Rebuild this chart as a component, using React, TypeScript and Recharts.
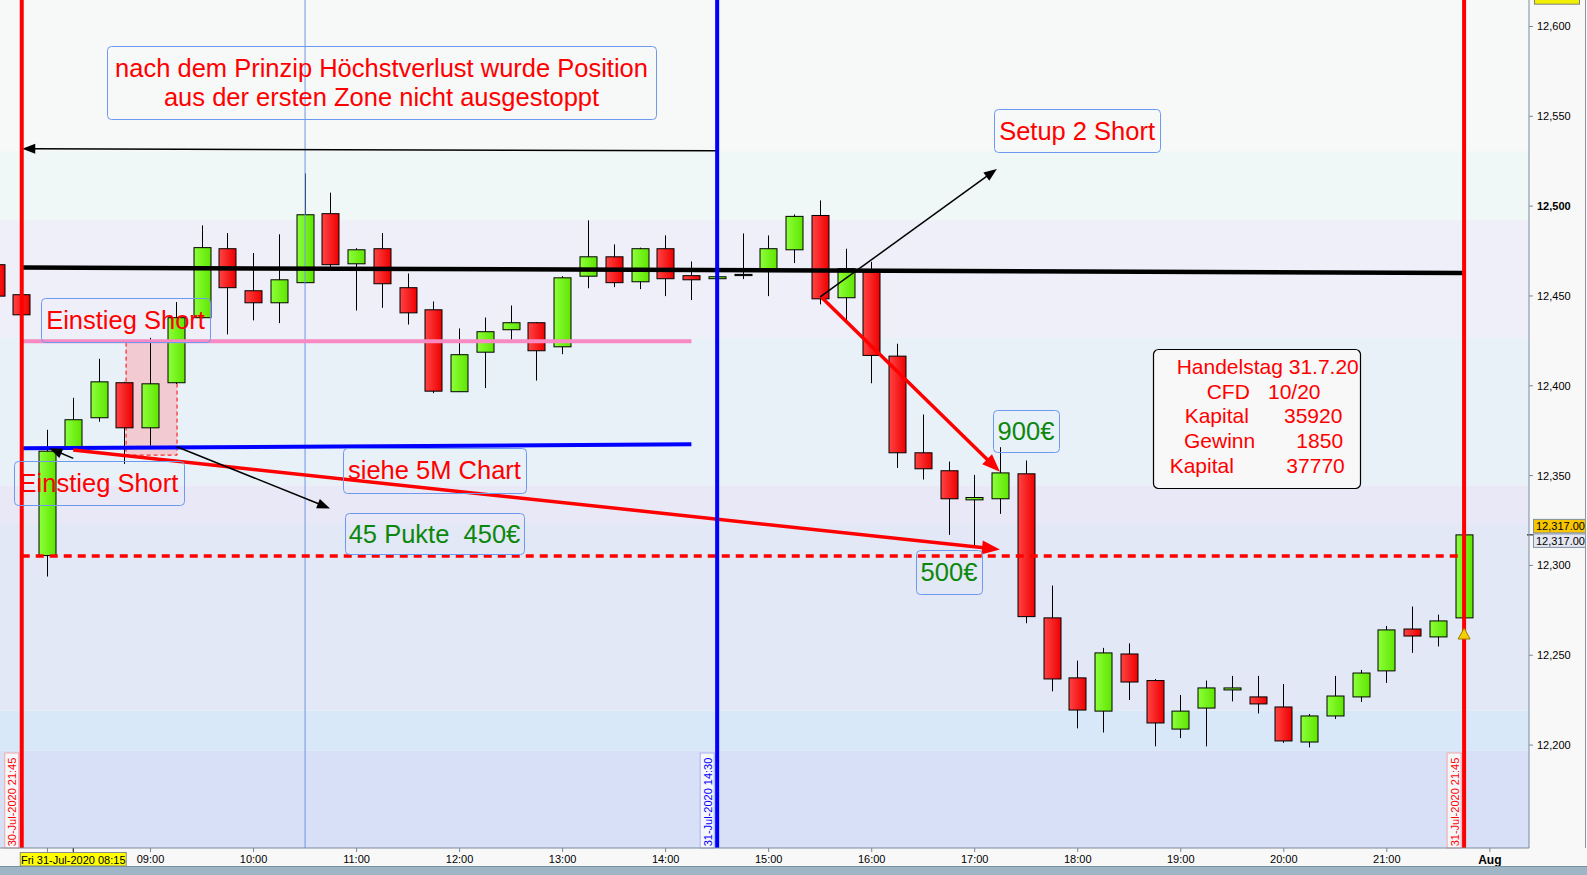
import React from 'react';
import {
  ComposedChart,
  Bar,
  XAxis,
  YAxis,
  ReferenceLine,
  ReferenceArea,
  ReferenceDot,
} from 'recharts';

// ---------- DATA ----------
const barIndex = [
  -2, -1, 0, 1, 2, 3, 4, 5, 6, 7, 8, 9, 10, 11, 12, 13, 14, 15, 16, 17, 18, 19, 20, 21, 22, 23, 24, 25, 26, 27,
  28, 29, 30, 31, 32, 33, 34, 35, 36, 37, 38, 39, 40, 41, 42, 43, 44, 45, 46, 47, 48, 49, 50, 51, 52, 53, 54, 55,
];
const opens = [
  12467.4, 12450.7, 12305.5, 12365.5, 12382.2, 12401.7, 12376.6, 12401.7, 12437.9, 12476.3, 12452.9, 12446.2,
  12457.4, 12495.8, 12467.9, 12476.3, 12454.6, 12442.3, 12396.7, 12418.7, 12431.2, 12435.1, 12421.7, 12461.0,
  12471.8, 12457.9, 12476.3, 12461.3, 12459.6, 12462.0, 12464.6, 12475.7, 12494.8, 12449.0, 12463.3, 12416.5,
  12362.7, 12352.7, 12336.5, 12337.1, 12351.0, 12270.8, 12237.4, 12218.9, 12250.7, 12235.9, 12208.9, 12220.6,
  12230.7, 12226.8, 12221.2, 12201.7, 12216.2, 12226.8, 12241.3, 12264.6, 12260.2, 12270.8,
];
const highs = [
  12470.0, 12452.0, 12375.5, 12393.3, 12415.0, 12402.2, 12426.7, 12446.6, 12489.3, 12485.0, 12473.9, 12484.3,
  12518.2, 12507.5, 12476.6, 12485.0, 12462.5, 12446.9, 12431.9, 12438.0, 12444.7, 12435.5, 12461.0, 12492.1,
  12478.7, 12476.9, 12483.7, 12469.2, 12461.0, 12484.8, 12483.7, 12495.4, 12503.2, 12476.3, 12469.0, 12423.4,
  12384.0, 12357.8, 12350.4, 12365.8, 12358.4, 12288.8, 12247.0, 12254.1, 12256.6, 12236.8, 12227.9, 12235.9,
  12238.5, 12238.5, 12234.0, 12217.3, 12238.5, 12241.8, 12266.3, 12277.1, 12272.6, 12317.2,
];
const lows = [
  12448.0, 12438.0, 12293.8, 12364.5, 12380.0, 12356.5, 12366.7, 12401.0, 12437.5, 12428.6, 12436.4, 12434.9,
  12457.0, 12466.0, 12441.9, 12443.4, 12434.1, 12395.9, 12396.5, 12398.7, 12425.6, 12402.9, 12417.6, 12454.3,
  12454.9, 12453.8, 12449.9, 12447.7, 12459.2, 12459.4, 12449.9, 12468.3, 12445.3, 12435.4, 12401.4, 12354.3,
  12347.8, 12317.0, 12310.5, 12328.7, 12267.8, 12229.9, 12209.3, 12207.0, 12225.1, 12199.3, 12203.9, 12199.3,
  12224.3, 12217.6, 12201.2, 12198.7, 12214.5, 12224.0, 12234.6, 12251.3, 12254.9, 12270.5,
];
const closes = [
  12449.9, 12439.5, 12363.6, 12381.1, 12402.2, 12376.6, 12401.1, 12437.9, 12476.9, 12454.6, 12446.2, 12459.0,
  12495.2, 12467.4, 12475.7, 12456.8, 12440.6, 12397.0, 12417.3, 12430.1, 12435.1, 12419.5, 12460.1, 12471.8,
  12457.4, 12476.3, 12459.6, 12459.0, 12460.7, 12462.0, 12476.3, 12494.3, 12448.4, 12465.2, 12416.9, 12362.7,
  12353.8, 12337.1, 12337.8, 12351.5, 12271.5, 12236.8, 12219.5, 12251.3, 12235.1, 12212.3, 12218.9, 12231.8,
  12231.8, 12222.9, 12202.3, 12216.2, 12227.3, 12240.1, 12264.1, 12260.7, 12269.1, 12317.0,
];

const xTickValues = [0, 4, 8, 12, 16, 20, 24, 28, 32, 36, 40, 44, 48, 52, 56];
const xTickLabels = ['', '09:00', '10:00', '11:00', '12:00', '13:00', '14:00', '15:00', '16:00', '17:00', '18:00', '19:00', '20:00', '21:00', 'Aug'];
const yTickValues = [12200, 12250, 12300, 12350, 12400, 12450, 12500, 12550, 12600];
const indexDomain = [-1.844, 57.52];
const priceDomain = [12142.7, 12614.75];

const bandEdges = [12614.75, 12530.5, 12492.1, 12426.9, 12344.5, 12323.0, 12219.2, 12196.9, 12142.7];
const bandColors = ['#f7f8f8', '#eff8f6', '#efeff9', '#e8f0f8', '#e9e8f6', '#e2e8f6', '#d9e8f8', '#d8e0f8'];

const lastPrice = 12317;
const topTagPrice = 12623;
const stopLevel = 12305.25;
const resistanceLine = [{ x: -1, y: 12465.85 }, { x: 55, y: 12462.75 }];
const pinkLine = [{ x: -1, y: 12424.75 }, { x: 25, y: 12424.75 }];
const blueLine = [{ x: -1, y: 12365.2 }, { x: 25, y: 12367.4 }];
const stopLine = [{ x: -1, y: stopLevel }, { x: 55, y: stopLevel }];

const redArrows = [
  [{ x: 1.0, y: 12364.2 }, { x: 36.98, y: 12308.9 }],
  [{ x: 30.06, y: 12449.2 }, { x: 36.98, y: 12352.1 }],
];
const blackArrows = [
  [{ x: 30.0, y: 12449.5 }, { x: 36.86, y: 12520.7 }],
  [{ x: 25.99, y: 12530.85 }, { x: -0.98, y: 12531.95 }],
  [{ x: 5.02, y: 12366.05 }, { x: 10.97, y: 12331.75 }],
  [{ x: 1.0, y: 12359.6 }, { x: 0.07, y: 12365.2 }],
];

const vMarkers = [
  { i: -1, color: '#ff0000', border: '#f0a8a8', label: '30-Jul-2020 21:45' },
  { i: 26, color: '#0000ff', border: '#a8b4f0', label: '31-Jul-2020 14:30' },
  { i: 55, color: '#ff0000', border: '#f0a8a8', label: '31-Jul-2020 21:45' },
];
const thinMarker = 10;
const cursorIndex = 1;
const cursorLabel = 'Fri 31-Jul-2020 08:15';

const notes = [
  { x1: 2.31, x2: 23.63, y1: 12548.5, y2: 12589.1, color: '#ff0000', lines: ['nach dem Prinzip Höchstverlust wurde Position', 'aus der ersten Zone nicht ausgestoppt'] },
  { x1: 36.75, x2: 43.2, y1: 12530.1, y2: 12554.07, color: '#ff0000', lines: ['Setup 2 Short'] },
  { x1: -0.25, x2: 6.31, y1: 12424.35, y2: 12448.85, color: '#ff0000', lines: ['Einstieg Short'] },
  { x1: -1.3, x2: 5.3, y1: 12333.6, y2: 12358.1, color: '#ff0000', lines: ['Einstieg Short'] },
  { x1: 11.47, x2: 18.58, y1: 12340.3, y2: 12365.4, color: '#ff0000', lines: ['siehe 5M Chart'] },
  { x1: 11.55, x2: 18.5, y1: 12306.3, y2: 12329.2, color: '#0c870c', lines: ['45 Pukte  450€'] },
  { x1: 36.71, x2: 39.27, y1: 12363.1, y2: 12386.5, color: '#0c870c', lines: ['900€'] },
  { x1: 33.72, x2: 36.28, y1: 12284.1, y2: 12308.6, color: '#0c870c', lines: ['500€'] },
];
const infoBox = { x1: 42.92, x2: 50.96, y1: 12343.1, y2: 12420.5 };
const infoLines = [
  [['Handelstag 31.7.20', 23.7]],
  [['CFD', 53.7], ['10/20', 115]],
  [['Kapital', 31.7], ['35920', 131]],
  [['Gewinn', 31], ['1850', 143.4]],
  [['Kapital', 16.7], ['37770', 133.4]],
];
const entryZone = { x1: 3.05, x2: 5.03, y1: 12361.4, y2: 12424.0 };
const alertPoint = { x: 55, y: 12261.8 };

const rows = barIndex.map((i, k) => ({
  i,
  open: opens[k],
  high: highs[k],
  low: lows[k],
  close: closes[k],
  range: [lows[k], highs[k]],
}));

// ---------- RENDER HELPERS ----------
const FONT = '"Liberation Sans", Arial, sans-serif';
const fmt = (v: number) => v.toLocaleString('en-US');

const Candle = (props: any) => {
  const { x, y, width, height, payload } = props;
  if (!payload) return <g />;
  const { open, close, high, low } = payload;
  const cx = x + width / 2;
  const wx = Math.round(cx) + 0.5;
  const pxPer = high - low > 0 ? height / (high - low) : 0;
  const yOf = (v: number) => y + (high - v) * pxPer;
  const top = yOf(Math.max(open, close));
  const bot = yOf(Math.min(open, close));
  const bodyH = Math.max(bot - top, 1.2);
  const doji = open === close;
  const fill = doji ? '#000' : close > open ? 'url(#gUp)' : 'url(#gDn)';
  return (
    <g>
      <line x1={wx} x2={wx} y1={y} y2={y + height} stroke="#000" strokeWidth={1} />
      <rect x={Math.round(cx) - 8} y={top} width={17} height={bodyH} fill={fill} stroke="#000" strokeWidth={1} />
    </g>
  );
};

function arrowShape(color: string, w: number, hl: number, hw: number) {
  return (p: any) => {
    const { x1, y1, x2, y2 } = p;
    const dx = x2 - x1;
    const dy = y2 - y1;
    const len = Math.hypot(dx, dy) || 1;
    const ux = dx / len;
    const uy = dy / len;
    const bx = x2 - ux * hl;
    const by = y2 - uy * hl;
    const px = (-uy * hw) / 2;
    const py = (ux * hw) / 2;
    return (
      <g>
        <line x1={x1} y1={y1} x2={bx + ux * 2} y2={by + uy * 2} stroke={color} strokeWidth={w} />
        <polygon points={`${x2},${y2} ${bx + px},${by + py} ${bx - px},${by - py}`} fill={color} />
      </g>
    );
  };
}

const boxOf = (p: any) => {
  const x = Math.min(p.x1, p.x2);
  const y = Math.min(p.y1, p.y2);
  return { x, y, width: Math.abs(p.x2 - p.x1), height: Math.abs(p.y2 - p.y1) };
};

function noteShape(lines: string[], color: string) {
  return (p: any) => {
    const { x, y, width, height } = boxOf(p);
    const cx = x + width / 2;
    const cy = y + height / 2;
    const n = lines.length;
    return (
      <g>
        <rect x={Math.round(x) + 0.5} y={Math.round(y) + 0.5} width={Math.round(width)} height={Math.round(height)} rx={4} fill="none" stroke="#6d9af0" strokeWidth={1} />
        {lines.map((t, k) => (
          <text
            key={k}
            x={cx}
            y={cy + (k - (n - 1) / 2) * 29}
            textAnchor="middle"
            dominantBaseline="central"
            fontSize={25.5}
            fontFamily={FONT}
            fill={color}
            style={{ whiteSpace: 'pre' }}
          >
            {t}
          </text>
        ))}
      </g>
    );
  };
}

const InfoShape = (p: any) => {
  const { x, y, width, height } = boxOf(p);
  return (
    <g>
      <rect x={Math.round(x) + 0.5} y={Math.round(y) + 0.5} width={Math.round(width)} height={Math.round(height)} rx={5} fill="#f8f8f8" stroke="#000" strokeWidth={1.2} />
      {infoLines.map((segs, k) =>
        segs.map((s, j) => (
          <text
            key={`${k}-${j}`}
            x={x + (s[1] as number)}
            y={y + 17.4 + k * 24.8}
            dominantBaseline="central"
            fontSize={21}
            fontFamily={FONT}
            fill="#ff0000"
          >
            {s[0] as string}
          </text>
        ))
      )}
    </g>
  );
};

const ZoneShape = (p: any) => {
  const { x, y, width, height } = p;
  return (
    <g>
      <rect x={x} y={y} width={width} height={height} fill="#f3c3cb" fillOpacity={0.85} />
      <path
        d={`M${x},${y} L${x},${y + height} L${x + width},${y + height} L${x + width},${y}`}
        fill="none"
        stroke="#ff0000"
        strokeWidth={1}
        strokeDasharray="4 3"
      />
    </g>
  );
};

function vMarkerShape(color: string, border: string, label: string) {
  return (p: any) => {
    const { x1, y1, y2 } = p;
    const top = Math.min(y1, y2);
    const bottom = Math.max(y1, y2);
    return (
      <g>
        <rect x={x1 - 17} y={bottom - 95} width={14} height={95} fill="#fafafa" fillOpacity={0.9} stroke={border} strokeWidth={1} />
        <text
          x={x1 - 9.5}
          y={bottom - 46}
          transform={`rotate(-90 ${x1 - 9.5} ${bottom - 46})`}
          textAnchor="middle"
          dominantBaseline="central"
          fontSize={11}
          fontFamily={FONT}
          fill={color}
        >
          {label}
        </text>
        <line x1={x1} x2={x1} y1={top} y2={bottom} stroke={color} strokeWidth={4} />
      </g>
    );
  };
}

const CursorShape = (p: any) => {
  const { x1, y1, y2 } = p;
  const bottom = Math.max(y1, y2);
  return (
    <g>
      <line x1={x1} x2={x1} y1={bottom} y2={bottom + 6} stroke="#000" strokeWidth={1} />
      <rect x={x1 - 53} y={bottom + 4.5} width={106} height={13.5} fill="#ffff00" stroke="#8a8a8a" strokeWidth={1} />
      <text x={x1} y={bottom + 11.5} textAnchor="middle" dominantBaseline="central" fontSize={11} fontFamily={FONT} fill="#000">
        {cursorLabel}
      </text>
    </g>
  );
};

const PriceTagShape = (p: any) => {
  const right = Math.max(p.x1, p.x2);
  const yy = p.y1;
  const txt = lastPrice.toLocaleString('en-US', { minimumFractionDigits: 2, maximumFractionDigits: 2 });
  return (
    <g>
      <line x1={right - 2} x2={right + 6} y1={yy} y2={yy} stroke="#000" strokeWidth={1} />
      <rect x={right + 4.5} y={yy - 15.5} width={52} height={13.5} fill="#f7c600" stroke="#8090a0" strokeWidth={1} />
      <text x={right + 7} y={yy - 8.5} dominantBaseline="central" fontSize={11} fontFamily={FONT} fill="#000">{txt}</text>
      <rect x={right + 4.5} y={yy - 1} width={52} height={13.5} fill="#e3e7f2" stroke="#8090a0" strokeWidth={1} />
      <text x={right + 7} y={yy + 6} dominantBaseline="central" fontSize={11} fontFamily={FONT} fill="#000">{txt}</text>
    </g>
  );
};

const TopTagShape = (p: any) => {
  const right = Math.max(p.x1, p.x2);
  return <rect x={right + 5.5} y={p.y1 + 5} width={45} height={14} fill="#f0f000" stroke="#808080" strokeWidth={1} />;
};

const AlertShape = (p: any) => {
  const { cx, cy } = p;
  return (
    <g>
      <polygon points={`${cx},${cy - 6} ${cx - 6},${cy + 5} ${cx + 6},${cy + 5}`} fill="#f5d000" stroke="#a07800" strokeWidth={1} />
    </g>
  );
};

const XTick = (props: any) => {
  const { x, y, payload } = props;
  const k = xTickValues.indexOf(payload.value);
  const label = k >= 0 ? xTickLabels[k] : '';
  if (!label) return <g />;
  const bold = label === 'Aug';
  return (
    <text x={x} y={y} dy={bold ? 10 : 9} textAnchor="middle" fontSize={bold ? 12 : 11} fontWeight={bold ? 'bold' : 'normal'} fontFamily={FONT} fill="#000">
      {label}
    </text>
  );
};

const YTick = (props: any) => {
  const { x, y, payload } = props;
  const bold = payload.value === 12500;
  return (
    <text x={x} y={y} dy={4} textAnchor="start" fontSize={11} fontWeight={bold ? 'bold' : 'normal'} fontFamily={FONT} fill="#000">
      {fmt(payload.value)}
    </text>
  );
};

export default function App() {
  return (
    <div style={{ position: 'absolute', left: 0, top: 0, width: 1587, height: 875, background: '#f8f8f8', overflow: 'hidden' }}>
      <ComposedChart width={1587} height={867} data={rows} margin={{ top: 0, right: 0, bottom: 0, left: 0 }}>
        <defs>
          <linearGradient id="gUp" x1="0" y1="0" x2="1" y2="0">
            <stop offset="0%" stopColor="#8cff3a" />
            <stop offset="100%" stopColor="#5fe600" />
          </linearGradient>
          <linearGradient id="gDn" x1="0" y1="0" x2="1" y2="0">
            <stop offset="0%" stopColor="#ff4444" />
            <stop offset="100%" stopColor="#ee0000" />
          </linearGradient>
        </defs>
        {bandColors.map((c, k) => (
          <ReferenceArea key={`band${k}`} y1={bandEdges[k + 1]} y2={bandEdges[k]} fill={c} fillOpacity={1} stroke="none" ifOverflow="hidden" />
        ))}
        <XAxis
          dataKey="i"
          type="number"
          domain={indexDomain}
          allowDataOverflow
          ticks={xTickValues}
          interval={0}
          tick={<XTick />}
          tickSize={4}
          height={19}
          stroke="#7a8a9a"
        />
        <YAxis
          orientation="right"
          type="number"
          domain={priceDomain}
          allowDataOverflow
          ticks={yTickValues}
          interval={0}
          tick={<YTick />}
          tickSize={4}
          tickMargin={4}
          width={58}
          stroke="#7a8a9a"
        />
        <ReferenceArea x1={entryZone.x1} x2={entryZone.x2} y1={entryZone.y1} y2={entryZone.y2} shape={ZoneShape} />
        <Bar dataKey="range" barSize={17} shape={Candle} isAnimationActive={false} />
        <ReferenceLine x={thinMarker} stroke="#7094e8" strokeWidth={1} />
        <ReferenceLine segment={pinkLine} stroke="#f889c2" strokeWidth={4} />
        <ReferenceLine segment={blueLine} stroke="#0000ff" strokeWidth={4} />
        <ReferenceLine segment={resistanceLine} stroke="#000" strokeWidth={4.5} />
        <ReferenceLine segment={stopLine} stroke="#ff0000" strokeWidth={3.5} strokeDasharray="8 6" />
        {redArrows.map((s, k) => (
          <ReferenceLine key={`ra${k}`} segment={s} shape={arrowShape('#ff0000', 3.5, 18, 14)} />
        ))}
        {blackArrows.map((s, k) => (
          <ReferenceLine key={`ba${k}`} segment={s} shape={arrowShape('#000', 1.5, 13, 10)} />
        ))}
        {vMarkers.map((m, k) => (
          <ReferenceLine key={`vm${k}`} x={m.i} shape={vMarkerShape(m.color, m.border, m.label)} />
        ))}
        {notes.map((n, k) => (
          <ReferenceLine
            key={`note${k}`}
            segment={[{ x: n.x1, y: n.y2 }, { x: n.x2, y: n.y1 }]}
            shape={noteShape(n.lines, n.color)}
          />
        ))}
        <ReferenceLine
          segment={[{ x: infoBox.x1, y: infoBox.y2 }, { x: infoBox.x2, y: infoBox.y1 }]}
          shape={InfoShape}
        />
        <ReferenceDot x={alertPoint.x} y={alertPoint.y} shape={AlertShape} />
        <ReferenceLine x={cursorIndex} shape={CursorShape} />
        <ReferenceLine y={lastPrice} shape={PriceTagShape} />
        <ReferenceLine y={topTagPrice} ifOverflow="visible" shape={TopTagShape} />
      </ComposedChart>
      <div style={{ position: 'absolute', left: 1585, top: 0, width: 1, height: 848, background: '#8a98a6' }} />
      <div style={{ position: 'absolute', left: 0, top: 866, width: 1587, height: 9, background: '#9db5c4', borderTop: '1px solid #7890a0' }} />
    </div>
  );
}
